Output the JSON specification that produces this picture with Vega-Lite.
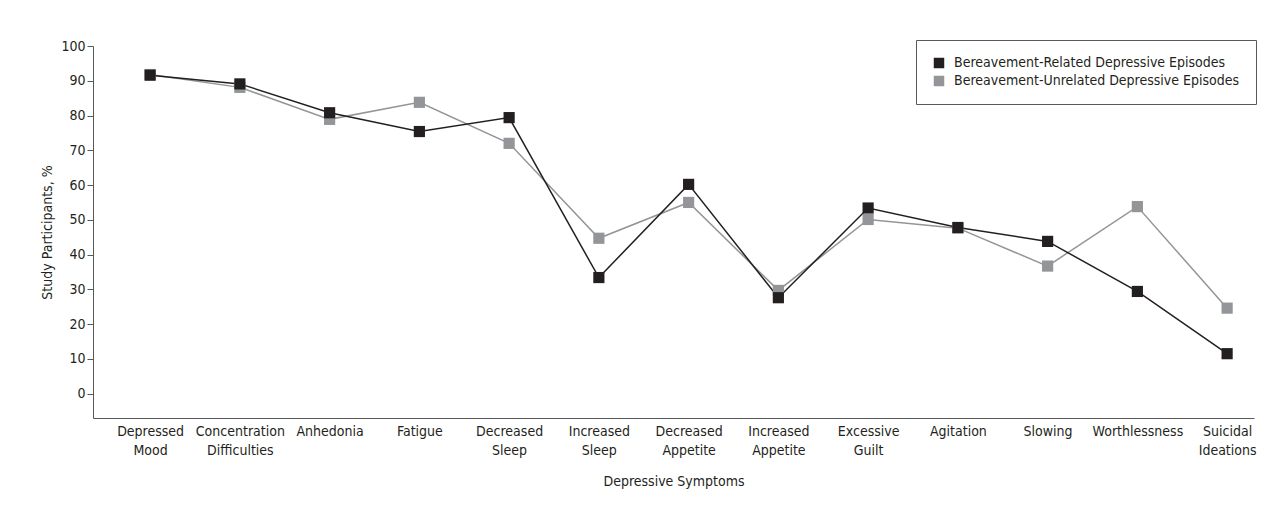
{
  "$schema": "https://vega.github.io/schema/vega-lite/v6.json",
  "autosize": {"type": "none"},
  "width": 1161,
  "height": 372,
  "padding": {"left": 93, "top": 46, "right": 30, "bottom": 98},
  "background": "white",
  "config": {
    "font": "'DejaVu Sans Condensed', 'Liberation Sans', sans-serif",
    "view": {"stroke": null},
    "axis": {
      "labelFont": "'DejaVu Sans Condensed', 'Liberation Sans', sans-serif",
      "titleFont": "'DejaVu Sans Condensed', 'Liberation Sans', sans-serif",
      "labelFontSize": 14,
      "titleFontSize": 14,
      "labelColor": "#231f20",
      "titleColor": "#231f20",
      "titleFontWeight": "normal",
      "domainColor": "#58595b",
      "tickColor": "#58595b",
      "grid": false
    },
    "legend": {
      "labelFont": "'DejaVu Sans Condensed', 'Liberation Sans', sans-serif",
      "labelFontSize": 14,
      "labelColor": "#231f20"
    }
  },
  "data": {
    "values": [
      {"symptom": "Depressed Mood", "group": "Bereavement-Unrelated Depressive Episodes", "pct": 91.8},
      {"symptom": "Concentration Difficulties", "group": "Bereavement-Unrelated Depressive Episodes", "pct": 88.1},
      {"symptom": "Anhedonia", "group": "Bereavement-Unrelated Depressive Episodes", "pct": 78.9},
      {"symptom": "Fatigue", "group": "Bereavement-Unrelated Depressive Episodes", "pct": 83.8},
      {"symptom": "Decreased Sleep", "group": "Bereavement-Unrelated Depressive Episodes", "pct": 72.0},
      {"symptom": "Increased Sleep", "group": "Bereavement-Unrelated Depressive Episodes", "pct": 44.7},
      {"symptom": "Decreased Appetite", "group": "Bereavement-Unrelated Depressive Episodes", "pct": 55.0},
      {"symptom": "Increased Appetite", "group": "Bereavement-Unrelated Depressive Episodes", "pct": 29.7},
      {"symptom": "Excessive Guilt", "group": "Bereavement-Unrelated Depressive Episodes", "pct": 50.1},
      {"symptom": "Agitation", "group": "Bereavement-Unrelated Depressive Episodes", "pct": 47.6},
      {"symptom": "Slowing", "group": "Bereavement-Unrelated Depressive Episodes", "pct": 36.7},
      {"symptom": "Worthlessness", "group": "Bereavement-Unrelated Depressive Episodes", "pct": 53.8},
      {"symptom": "Suicidal Ideations", "group": "Bereavement-Unrelated Depressive Episodes", "pct": 24.6},
      {"symptom": "Depressed Mood", "group": "Bereavement-Related Depressive Episodes", "pct": 91.6},
      {"symptom": "Concentration Difficulties", "group": "Bereavement-Related Depressive Episodes", "pct": 89.1},
      {"symptom": "Anhedonia", "group": "Bereavement-Related Depressive Episodes", "pct": 80.8},
      {"symptom": "Fatigue", "group": "Bereavement-Related Depressive Episodes", "pct": 75.4},
      {"symptom": "Decreased Sleep", "group": "Bereavement-Related Depressive Episodes", "pct": 79.4},
      {"symptom": "Increased Sleep", "group": "Bereavement-Related Depressive Episodes", "pct": 33.4},
      {"symptom": "Decreased Appetite", "group": "Bereavement-Related Depressive Episodes", "pct": 60.2},
      {"symptom": "Increased Appetite", "group": "Bereavement-Related Depressive Episodes", "pct": 27.6},
      {"symptom": "Excessive Guilt", "group": "Bereavement-Related Depressive Episodes", "pct": 53.4},
      {"symptom": "Agitation", "group": "Bereavement-Related Depressive Episodes", "pct": 47.8},
      {"symptom": "Slowing", "group": "Bereavement-Related Depressive Episodes", "pct": 43.8},
      {"symptom": "Worthlessness", "group": "Bereavement-Related Depressive Episodes", "pct": 29.4},
      {"symptom": "Suicidal Ideations", "group": "Bereavement-Related Depressive Episodes", "pct": 11.5}
    ]
  },
  "encoding": {
    "x": {
      "field": "symptom",
      "type": "nominal",
      "sort": null,
      "scale": {"type": "point", "padding": 0.468, "align": 0.68},
      "axis": {
        "title": "Depressive Symptoms",
        "labelAngle": 0,
        "ticks": false,
        "labelPadding": 6,
        "labelExpr": "split(datum.label, ' ')",
        "labelLineHeight": 19,
        "labelBaseline": "top",
        "titlePadding": 17
      }
    },
    "y": {
      "field": "pct",
      "type": "quantitative",
      "scale": {"domain": [-7, 100], "nice": false, "zero": false},
      "axis": {
        "title": "Study Participants, %",
        "values": [0, 10, 20, 30, 40, 50, 60, 70, 80, 90, 100],
        "tickSize": 6,
        "labelPadding": 2,
        "titlePadding": 6
      }
    },
    "color": {
      "field": "group",
      "type": "nominal",
      "scale": {
        "domain": ["Bereavement-Related Depressive Episodes", "Bereavement-Unrelated Depressive Episodes"],
        "range": ["#231f20", "#939598"]
      },
      "legend": {
        "title": null,
        "orient": "none",
        "legendX": 823,
        "legendY": -6,
        "strokeColor": "#58595b",
        "padding": 16,
        "symbolType": "square",
        "symbolSize": 110,
        "symbolStrokeWidth": 0,
        "symbolOpacity": 1,
        "labelOffset": 8,
        "labelLimit": 500,
        "rowPadding": 4,
        "fillColor": "white"
      }
    }
  },
  "layer": [
    {
      "mark": {"type": "line", "strokeWidth": 1.5},
      "encoding": {
        "order": {"field": "group", "sort": "descending"}
      }
    },
    {
      "mark": {"type": "point", "shape": "square", "filled": true, "opacity": 1, "size": 125}
    }
  ]
}
